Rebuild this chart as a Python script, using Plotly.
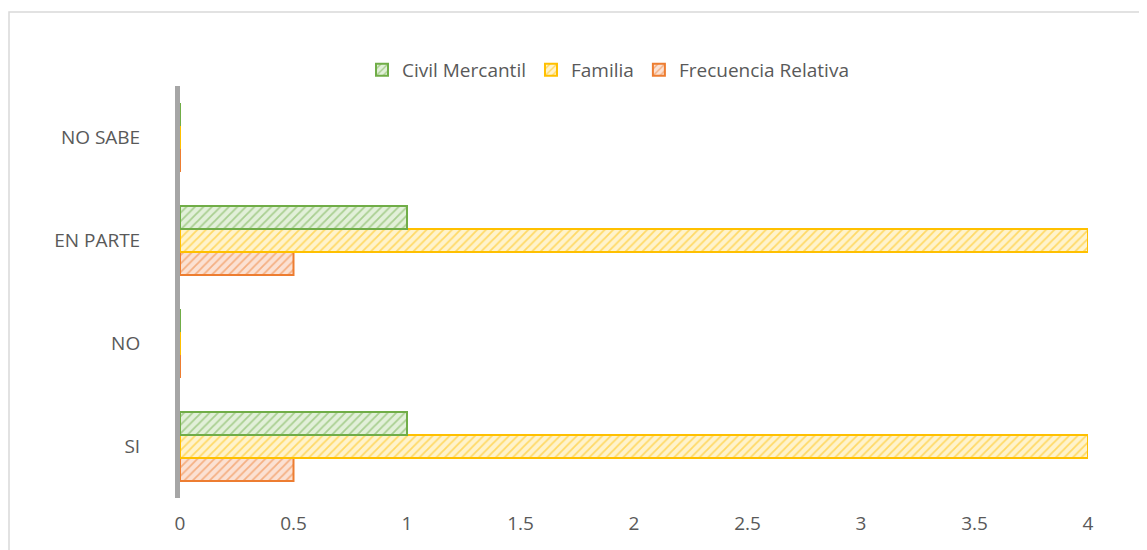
"""Horizontal grouped bar chart: Civil Mercantil / Familia / Frecuencia Relativa."""

import plotly.graph_objects as go

categorias = ["SI", "NO", "EN PARTE", "NO SABE"]
civil_mercantil = [1, 0, 1, 0]
familia = [4, 0, 4, 0]
frecuencia_relativa = [0.5, 0, 0.5, 0]

x_ticks = [0, 0.5, 1, 1.5, 2, 2.5, 3, 3.5, 4]
x_labels = ["0", "0.5", "1", "1.5", "2", "2.5", "3", "3.5", "4"]

# page body has an 8px margin, so the figure is a bit smaller than the window
W, H = 1139, 542
L, R, T, B = 172, 59, 78, 52
FONT = "Open Sans, Liberation Sans, sans-serif"
GRIS = "#595959"

# first trace ends up at the bottom of each group
series = [
    ("Frecuencia Relativa", frecuencia_relativa, "#ED7D31", "#FBE1D3"),
    ("Familia", familia, "#FFC000", "#FFF3CC"),
    ("Civil Mercantil", civil_mercantil, "#70AD47", "#E2F0D9"),
]

fig = go.Figure()
for nombre, valores, color, fondo in series:
    fig.add_trace(go.Bar(
        y=categorias,
        x=valores,
        name=nombre,
        orientation="h",
        marker=dict(
            color=fondo,
            line=dict(color=color, width=2),
            pattern=dict(shape="/", fgcolor=color, bgcolor=fondo, size=6, solidity=0.3),
        ),
    ))

pw = W - L - R
ph = H - T - B
fig.add_shape(
    type="rect", xref="paper", yref="paper",
    x0=(1 - L) / pw, x1=1.2, y0=-0.3, y1=1 + (T - 4) / ph,
    line=dict(color="#d9d9d9", width=1.5), fillcolor="rgba(0,0,0,0)", layer="below",
)

fig.update_layout(
    width=W,
    height=H,
    margin=dict(l=L, r=R, t=T, b=B),
    paper_bgcolor="white",
    plot_bgcolor="white",
    barmode="group",
    bargap=0.33,
    bargroupgap=0,
    font=dict(family=FONT, size=19, color=GRIS),
    legend=dict(
        orientation="h",
        traceorder="reversed",
        x=0.5 + (600 - (L + pw / 2)) / pw,
        xanchor="center",
        y=1 + 16 / ph,
        yanchor="middle",
        font=dict(size=19, color=GRIS),
        itemwidth=30,
    ),
    showlegend=True,
)
fig.update_xaxes(
    range=[0, 4],
    tickvals=x_ticks,
    ticktext=x_labels,
    showgrid=False,
    zeroline=False,
    showline=False,
    ticks="",
    ticklabelstandoff=12,
    tickfont=dict(size=19, color=GRIS),
)
fig.update_yaxes(
    categoryorder="array",
    categoryarray=categorias,
    range=[-0.5, 3.5],
    showgrid=False,
    zeroline=False,
    showline=True,
    linecolor="#a6a6a6",
    linewidth=5,
    ticks="",
    ticklabelstandoff=31,
    tickfont=dict(size=19, color=GRIS),
)

fig.write_html("out.html")
